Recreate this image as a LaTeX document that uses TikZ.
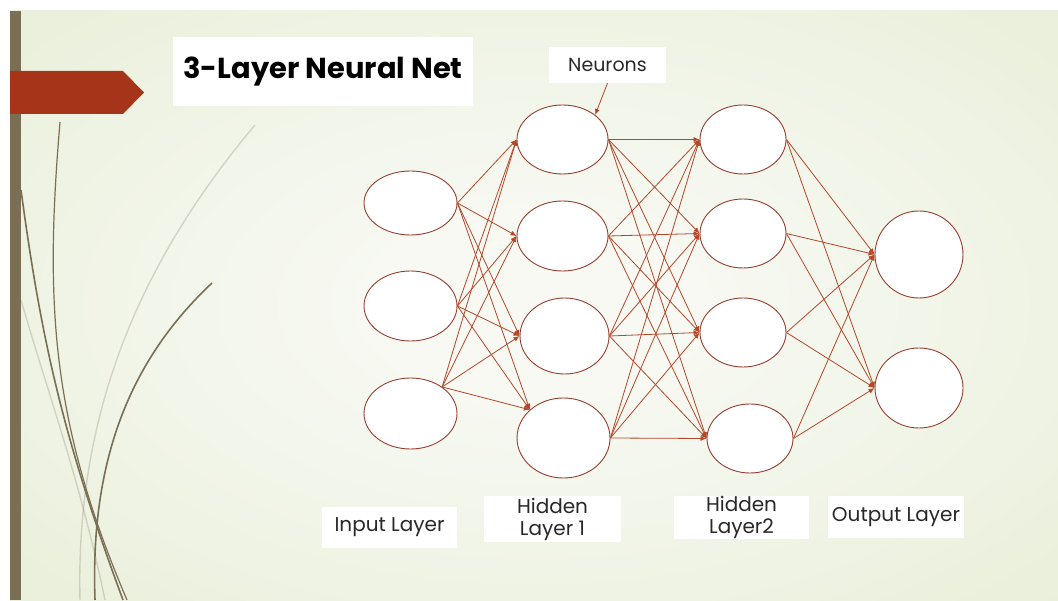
\documentclass[tikz,border=0pt]{standalone}
\usepackage{fontspec}
\setmainfont{Poppins}
\usetikzlibrary{shapes.geometric,arrows.meta}
\definecolor{bgin}{RGB}{247,249,242}
\definecolor{bgout}{RGB}{221,230,196}
\definecolor{barcol}{RGB}{122,111,85}
\definecolor{arrowred}{RGB}{166,52,24}
\definecolor{rust}{RGB}{180,70,42}
\definecolor{edgecol}{RGB}{150,62,48}
\definecolor{txtcol}{RGB}{40,40,40}
\pgfdeclareradialshading{slidebg}{\pgfpoint{0bp}{0bp}}{color(0bp)=(bgin); color(8bp)=(bgin); color(62bp)=(bgout); color(75bp)=(bgout)}
\tikzset{
  neuron/.style={ellipse, draw=edgecol, line width=0.9pt, fill=white, inner sep=0pt},
  conn/.style={draw=rust, line width=0.8pt, -{Latex[length=6pt,width=5pt]}},
  lblbox/.style={fill=white, inner sep=0pt, align=center, text=txtcol, font=\fontsize{20pt}{22pt}\selectfont},
  deco/.style={draw=barcol, line width=1.6pt},
  decofaint/.style={draw=barcol, line width=1.4pt, draw opacity=0.25},
}
\begin{document}
\begin{tikzpicture}[x=1pt,y=-1pt]
\useasboundingbox (0,0) rectangle (1058,601);
\fill[white] (0,0) rectangle (1058,601);
\shade[shading=slidebg] (10,11) rectangle (1058,600);
% decorative curves
\draw[decofaint] (255,125) .. controls (150,250) and (75,400) .. (80,600);
\draw[decofaint] (21,300) .. controls (50,400) and (80,480) .. (105,600);
\draw[deco, line width=1.2pt] (60,122) .. controls (45,300) and (50,420) .. (127,600);
\draw[deco] (21,190) .. controls (40,330) and (60,430) .. (123,600);
\draw[deco] (212,283) .. controls (130,360) and (90,460) .. (95,600);
% left bar and red arrow
\fill[barcol] (10,11) rectangle (21,600);
\fill[arrowred] (10,71) -- (123,71) -- (144,92.5) -- (123,114) -- (10,114) -- cycle;
% title
\node[fill=white, minimum width=300pt, minimum height=69pt, inner sep=0pt] (title) at (323,71.5)
  {\resizebox{279pt}{!}{\bfseries 3-Layer Neural Net}};
% neurons
\node[neuron, minimum width=93pt, minimum height=64pt] (I1) at (410.5,203) {};
\node[neuron, minimum width=93pt, minimum height=70pt] (I2) at (410.5,306) {};
\node[neuron, minimum width=93pt, minimum height=71pt] (I3) at (410.5,413.5) {};
\node[neuron, minimum width=91pt, minimum height=69pt] (H1) at (562.5,139.5) {};
\node[neuron, minimum width=91pt, minimum height=70pt] (H2) at (562.5,236) {};
\node[neuron, minimum width=89pt, minimum height=76pt] (H3) at (564.5,336) {};
\node[neuron, minimum width=93pt, minimum height=80pt] (H4) at (563.5,438) {};
\node[neuron, minimum width=86pt, minimum height=69pt] (J1) at (743,139.5) {};
\node[neuron, minimum width=86pt, minimum height=69pt] (J2) at (743,233.5) {};
\node[neuron, minimum width=86pt, minimum height=69pt] (J3) at (743,332.5) {};
\node[neuron, minimum width=86pt, minimum height=69pt] (J4) at (750,438.5) {};
\node[neuron, minimum width=88pt, minimum height=87pt] (O1) at (919,254.5) {};
\node[neuron, minimum width=88pt, minimum height=80pt] (O2) at (919,388) {};
% connections input -> hidden 1
\foreach \a in {I1,I2}{
  \foreach \b in {H1,H2,H3}{\draw[conn] (\a.east) -- (\b.west);}
  \draw[conn] (\a.east) -- (H4.140);
}
\foreach \b in {H1,H2,H3}{\draw[conn] (I3.40) -- (\b.west);}
\draw[conn] (I3.40) -- (H4.140);
% hidden 1 -> hidden 2
\foreach \a in {H1,H2,H3,H4}{
  \foreach \b in {J1,J2,J3,J4}{\draw[conn] (\a.east) -- (\b.west);}
}
% hidden 2 -> output
\foreach \a in {J1,J2,J3,J4}{
  \foreach \b in {O1,O2}{\draw[conn] (\a.east) -- (\b.west);}
}
% labels
\node[lblbox, minimum width=117pt, minimum height=36pt, font=\fontsize{19pt}{21pt}\selectfont] (neurons) at (607.5,65) {Neurons};
\draw[conn] (neurons.south) -- (H1.37);
\node[lblbox, minimum width=135pt, minimum height=41pt] (inl) at (389.5,527.5) {Input Layer};
\node[lblbox, minimum width=137pt, minimum height=46pt] (h1l) at (552.5,519) {Hidden\\Layer 1};
\node[lblbox, minimum width=135pt, minimum height=43pt] (h2l) at (741.5,517.5) {Hidden\\Layer2};
\node[lblbox, minimum width=136pt, minimum height=42pt] (outl) at (896,517) {Output Layer};
\end{tikzpicture}
\end{document}
